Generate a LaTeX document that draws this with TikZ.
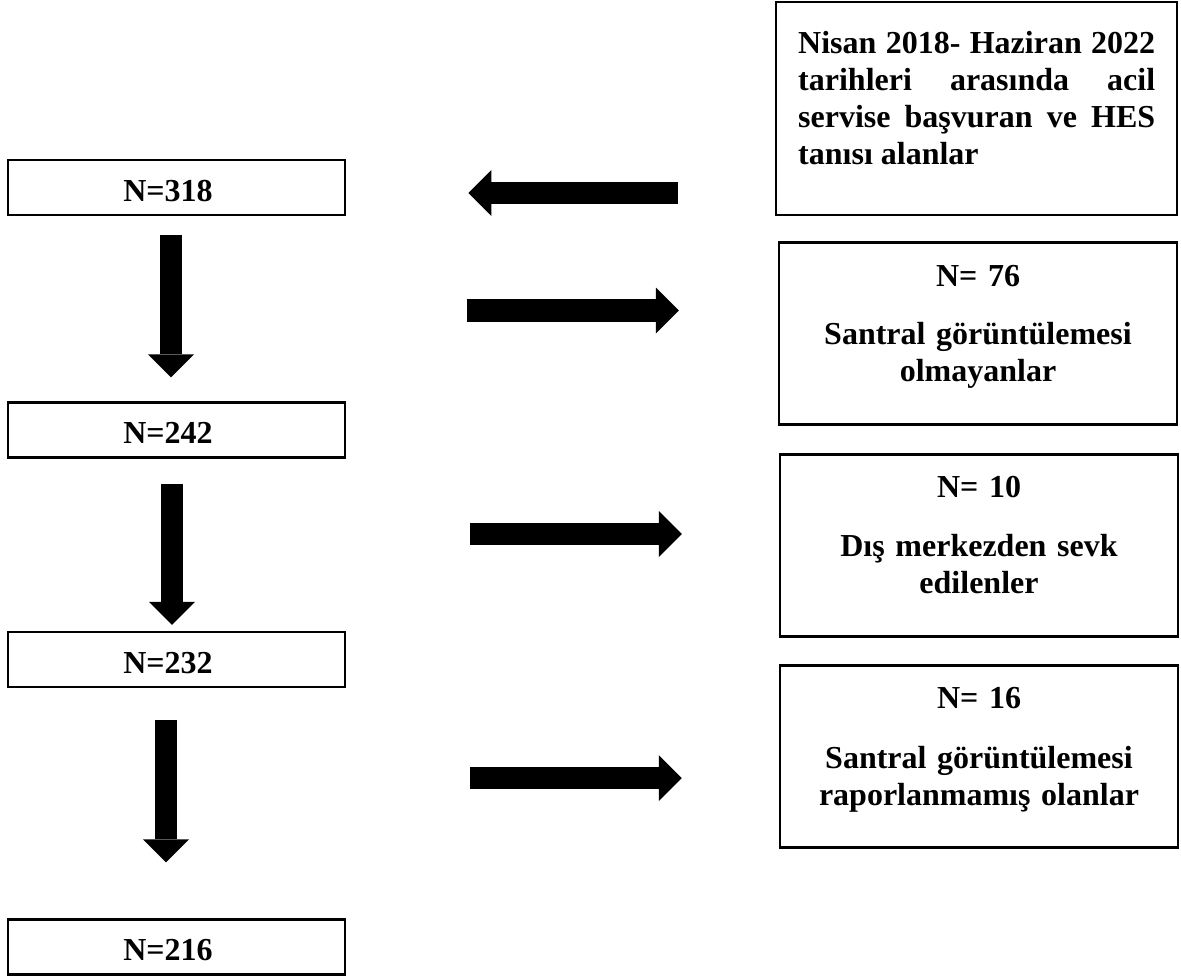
\documentclass[tikz,border=0pt]{standalone}
\usepackage{fontspec}
\setmainfont{Liberation Serif}
\usetikzlibrary{arrows.meta,calc}
\begin{document}
\begin{tikzpicture}[x=1pt,y=-1pt,
  every node/.style={font=\fontsize{32pt}{37.3pt}\selectfont\bfseries},
  box/.style={draw, line width=2.5pt, inner sep=0pt},
  lbox/.style={box, minimum width=337pt, minimum height=55pt, text height=27pt, text depth=0pt},
  rbox/.style={box, minimum width=398pt, minimum height=182pt},
  rtext/.style={text width=390pt, align=center, inner sep=0pt, anchor=base},
  blockarrow/.style={line width=22.5pt, -{Triangle[width=46pt,length=23pt,line width=0pt]}}
]
\useasboundingbox (0,0) rectangle (1181,980);
% left flow boxes
\node[lbox] (n318) at (176.5,187.5) {N=318\kern17pt};
\node[lbox] (n242) at (176.5,430) {N=242\kern17pt};
\node[lbox] (n232) at (176.5,659.5) {N=232\kern17pt};
\node[lbox] (n216) at (176.5,947) {N=216\kern17pt};
% right boxes
\node[box, minimum width=401pt, minimum height=213pt] (src) at (976.5,108.5) {};
\node[rbox] (b76) at (978,333.5) {};
\node[rbox] (b10) at (979,545.5) {};
\node[rbox] (b16) at (979,756.5) {};
% texts in right boxes
\node[anchor=base west, text width=357pt, align=justify, inner sep=0pt] (srct) at (798,53)
  {Nisan 2018- Haziran 2022\linebreak tarihleri arasında acil\linebreak servise başvuran ve HES\linebreak tanısı alanlar};
\node[rtext] (t76) at ($(b76.north)+(0,45)$) {N= 76\\[21pt]Santral görüntülemesi\\olmayanlar};
\node[rtext] (t10) at ($(b10.north)+(0,44)$) {N= 10\\[22pt]Dış merkezden sevk\\edilenler};
\node[rtext] (t16) at ($(b16.north)+(0,44)$) {N= 16\\[23pt]Santral görüntülemesi\\raporlanmamış olanlar};
% vertical arrows
\draw[blockarrow] ($(n318.south)+(-5.5,19)$) -- ($(n242.north)+(-5.5,-24)$);
\draw[blockarrow] ($(n242.south)+(-4.5,25)$) -- ($(n232.north)+(-4.5,-6)$);
\draw[blockarrow] ($(n232.south)+(-10.5,32)$) -- ($(n216.north)+(-10.5,-56)$);
% horizontal arrows
\draw[blockarrow] ($(src.west)+(-97,84.5)$) -- ($(n318.east)+(122,5.5)$);
\draw[blockarrow] ($(b76.west)+(-311,-23)$) -- ($(b76.west)+(-99,-23)$);
\draw[blockarrow] ($(b10.west)+(-309,-11.5)$) -- ($(b10.west)+(-97,-11.5)$);
\draw[blockarrow] ($(b16.west)+(-309,21.5)$) -- ($(b16.west)+(-97,21.5)$);
\end{tikzpicture}
\end{document}
